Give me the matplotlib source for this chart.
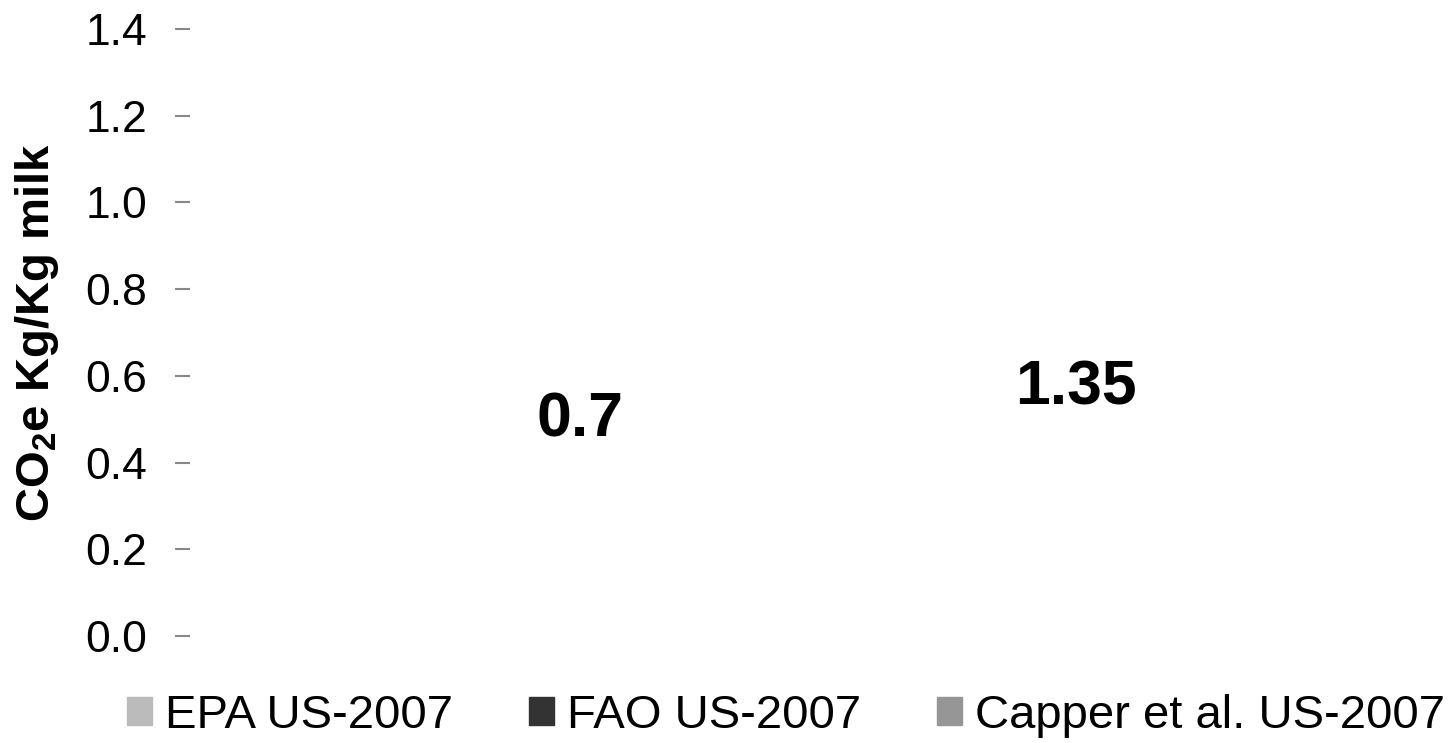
import matplotlib.pyplot as plt
from matplotlib.patches import Patch
import numpy as np

plt.rcParams['font.family'] = ['Liberation Sans', 'DejaVu Sans']
plt.rcParams['mathtext.fontset'] = 'custom'
plt.rcParams['mathtext.rm'] = 'Liberation Sans'
plt.rcParams['mathtext.bf'] = 'Liberation Sans:bold'

series = ['EPA US-2007', 'FAO US-2007', 'Capper et al. US-2007']
values = [0.7, np.nan, 1.35]
colors = ['#bbbbbb', '#333333', '#969696']
label_y = [0.459, np.nan, 0.533]   # baseline of the value labels as they sit in the source
positions = [-1, 0, 1]

fig = plt.figure(figsize=(14.55, 7.43), dpi=100)
ax = fig.add_axes([190 / 1455, 107 / 743, 1265 / 1455, 607 / 743])

# bars are not visible in the source picture, only their value labels
for x, v, c, ly in zip(positions, values, colors, label_y):
    if np.isnan(v):
        continue
    ax.bar(x, v, 0.8, color=c, alpha=0)
    ax.text(x, ly, f'{v:g}', ha='center', va='baseline', fontsize=45, fontweight='bold')

ax.set_xlim(-2.573, 2.528)
ax.set_ylim(0, 1.4)
ticks = np.arange(0, 1.41, 0.2)
ax.set_yticks(ticks)
ax.set_yticklabels([f'{t:.1f}' for t in ticks], fontsize=32)
ax.tick_params(axis='y', length=11, width=1.5, color='#888888', pad=20)
ax.set_xticks([])
for s in ax.spines.values():
    s.set_visible(False)

ax.set_ylabel(r'CO$_\mathbf{2}$e Kg/Kg milk', fontsize=34, fontweight='bold')
ax.yaxis.set_label_coords(-0.102, 0.5)

handles = [Patch(color=c) for c in colors]
fig.legend(handles, series, loc='center left', ncol=3, frameon=False, fontsize=34,
           handlelength=0.53, handleheight=0.53, handletextpad=0.28, columnspacing=1.6,
           borderpad=0, borderaxespad=0,
           bbox_to_anchor=(127 / 1455, 27 / 743))

fig.savefig('out.png', dpi=100)
